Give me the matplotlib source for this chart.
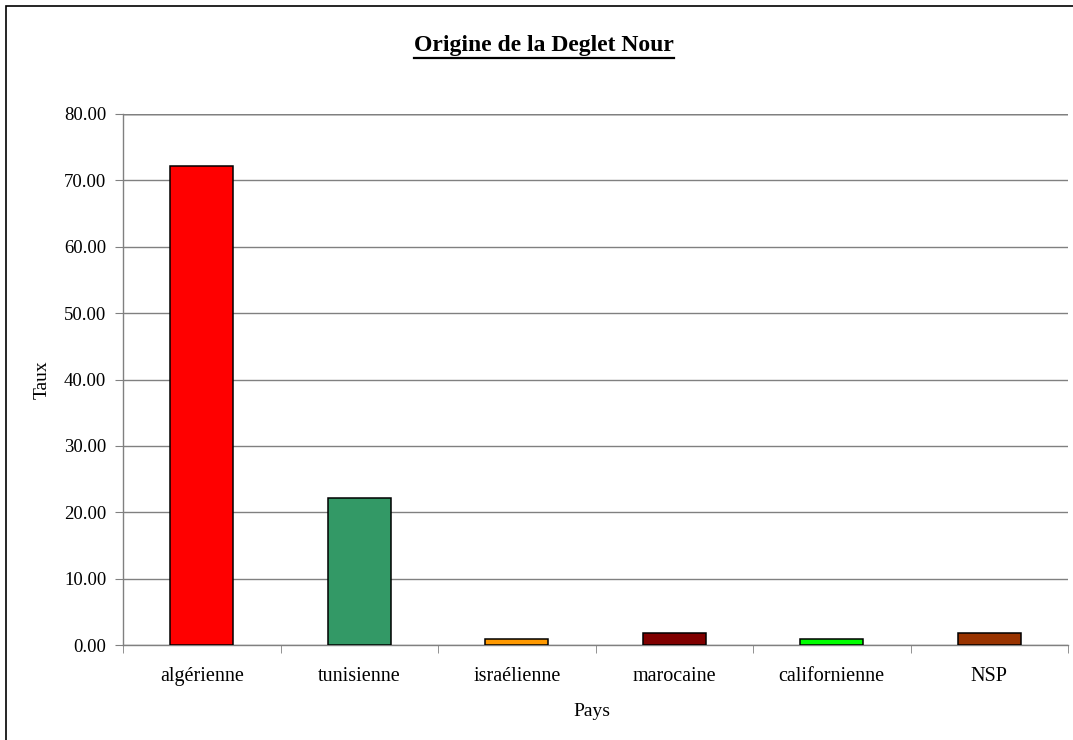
import matplotlib
matplotlib.use('Agg')
import matplotlib.pyplot as plt
from matplotlib.patches import Rectangle
from matplotlib.lines import Line2D
import numpy as np

plt.rcParams['font.family'] = ['Liberation Serif', 'DejaVu Serif']

# Data (survey shares, %)
categories = ['algérienne', 'tunisienne', 'israélienne', 'marocaine', 'californienne', 'NSP']
taux = [72.22, 22.22, 0.93, 1.85, 0.93, 1.85]
bar_colors = ['#FF0000', '#339966', '#FF9900', '#800000', '#00FF00', '#993300']
y_ticks = [0, 10, 20, 30, 40, 50, 60, 70, 80]

W, H = 1073, 740
fig = plt.figure(figsize=(W / 100, H / 100), dpi=100)

# outer chart-area border (runs off the right and bottom edges)
fig.patches.append(Rectangle((6 / W, -0.05), 1.1, 1 - 6 / H + 0.05,
                             transform=fig.transFigure, fill=False,
                             edgecolor='black', lw=1.2, clip_on=False))

ax = fig.add_axes([123 / W, 1 - 645 / H, (1068 - 123) / W, (645 - 114) / H])

x = np.arange(len(categories))
ax.bar(x, taux, width=0.4, color=bar_colors, edgecolor='black', linewidth=1.1, zorder=3)

ax.set_xlim(-0.5, len(categories) - 0.5)
ax.set_ylim(0, 80)
ax.set_yticks(y_ticks)
ax.set_yticklabels([f'{v:.2f}' for v in y_ticks])
ax.yaxis.grid(True, color='#808080', lw=1.0, zorder=0)
ax.axhline(80, color='black', lw=1.0, zorder=1)

ax.set_xticks(x)
ax.set_xticklabels(categories)
ax.set_xticks(np.arange(len(categories) + 1) - 0.5, minor=True)
ax.tick_params(axis='x', which='major', length=0, pad=16, labelsize=14.5)
ax.tick_params(axis='x', which='minor', length=6, color='#808080', direction='out')
ax.tick_params(axis='y', length=6, color='#808080', direction='out', labelsize=13.5, pad=6)

for s in ['top', 'right']:
    ax.spines[s].set_visible(False)
for s in ['left', 'bottom']:
    ax.spines[s].set_color('#808080')
    ax.spines[s].set_linewidth(1.0)

ax.set_ylabel('Taux', fontsize=14)
ax.set_xlabel('Pays', fontsize=14)
ax.yaxis.set_label_coords((42 - 123) / 945, 0.5)
ax.yaxis.label.set_va('center')
ax.xaxis.set_label_coords(0.496, (645 - 712) / 531)
ax.xaxis.label.set_va('center')

title = fig.text(544 / W, 1 - 45 / H, 'Origine de la Deglet Nour',
                 ha='center', va='center', fontsize=17, fontweight='bold')

# underline the title
fig.canvas.draw()
bb = title.get_window_extent(fig.canvas.get_renderer())
bb = bb.transformed(fig.transFigure.inverted())
uy = 1 - 58 / H
fig.add_artist(Line2D([bb.x0, bb.x1], [uy, uy],
                      transform=fig.transFigure, color='black', lw=1.6))

fig.savefig('out.png', dpi=100)
